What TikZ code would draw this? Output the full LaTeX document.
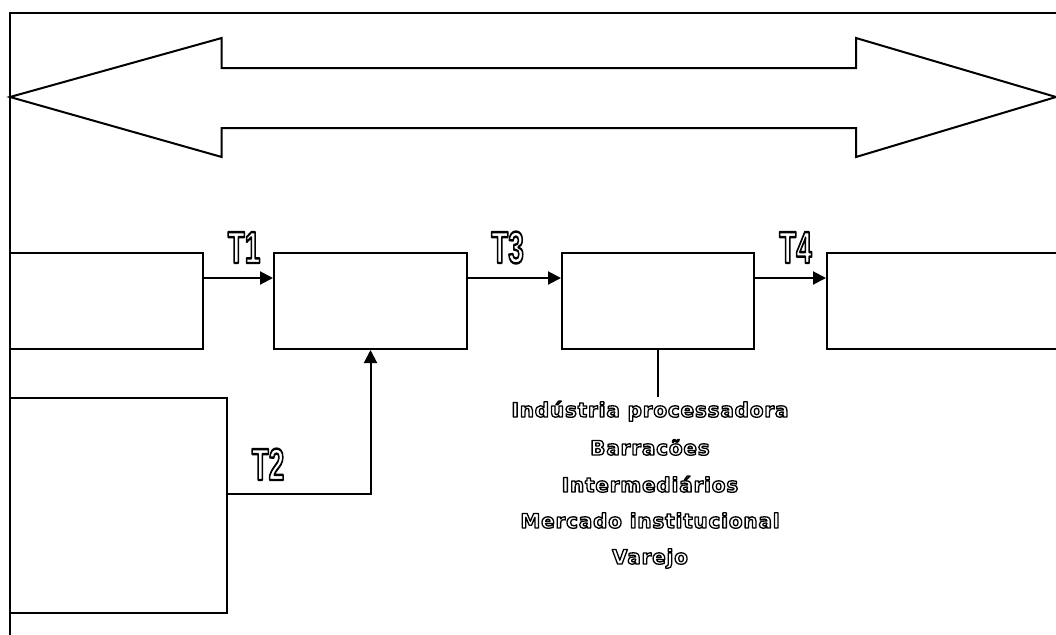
\documentclass[tikz,border=0pt]{standalone}
\usepackage{fontspec}
\usepackage{graphicx}
\usetikzlibrary{arrows.meta}
\newfontfamily\listfont{DejaVu Sans}[LetterSpace=4]
\newfontfamily\tagfont{Liberation Sans}
% hollow lettering: glyphs filled white and stroked black (text render mode 2)
\newcommand{\hollow}[2][1.3]{\special{pdf:code q 2 Tr 0 G 1 g #1 w 1 j}#2\special{pdf:code Q}}
\newcommand{\hollowtag}[1]{\scalebox{0.62}[1]{\hollow[2.4]{#1}}}
\tikzset{
  line/.style={line width=2pt, draw=black},
  stage/.style={line, rectangle, inner sep=0pt, fill=white},
  flow/.style={line, -{Triangle[length=13pt,width=13pt]}},
  tag/.style={inner sep=0pt, anchor=base, font=\tagfont\bfseries\fontsize{45}{45}\selectfont},
  item/.style={inner sep=0pt, anchor=base, font=\listfont\bfseries\fontsize{20}{20}\selectfont}
}
\begin{document}
\begin{tikzpicture}[x=1pt,y=-1pt]
\useasboundingbox (0,0) rectangle (1056,634);
\clip (0,0) rectangle (1056,634);
% frame
\draw[line] (10,640) -- (10,13) -- (1060,13);
% double-headed band
\draw[line, line join=miter] (10,97) -- (221.7,38) -- (221.7,68) -- (856,68) -- (856,38)
  -- (1056,97) -- (856,157) -- (856,128) -- (221.7,128) -- (221.7,157) -- cycle;
% stages
\node[stage, minimum width=193pt, minimum height=96pt] (A) at (106.5,301) {};
\node[stage, minimum width=193pt, minimum height=96pt] (B) at (370.5,301) {};
\node[stage, minimum width=192pt, minimum height=96pt] (C) at (658,301) {};
\node[stage, minimum width=260pt, minimum height=96pt] (D) at (957,301) {};
\node[stage, minimum width=217pt, minimum height=215pt] (E) at (118.5,505.5) {};
% flows
\draw[flow] ([yshift=23pt]A.east) -- ([yshift=23pt]B.west);
\draw[flow] ([yshift=23pt]B.east) -- ([yshift=23pt]C.west);
\draw[flow] ([yshift=23pt]C.east) -- ([yshift=23pt]D.west);
\draw[flow] ([yshift=11.5pt]E.east) -| (B.south);
\coordinate (Cend) at (658,397);
\draw[line] (C.south) -- (Cend);
% transaction tags
\node[tag] (t1) at (244,263) {\hollowtag{T1}};
\node[tag] (t3) at (507.5,263) {\hollowtag{T3}};
\node[tag] (t4) at (795.5,263) {\hollowtag{T4}};
\node[tag] (t2) at (268,480) {\hollowtag{T2}};
% agents of stage C
\node[item] (i1) at (650,417) {\hollow{Indústria processadora}};
\node[item] (i2) at (650,455) {\hollow{Barracões}};
\node[item] (i3) at (650,492) {\hollow{Intermediários}};
\node[item] (i4) at (650,528) {\hollow{Mercado institucional}};
\node[item] (i5) at (650,564) {\hollow{Varejo}};
\end{tikzpicture}
\end{document}
